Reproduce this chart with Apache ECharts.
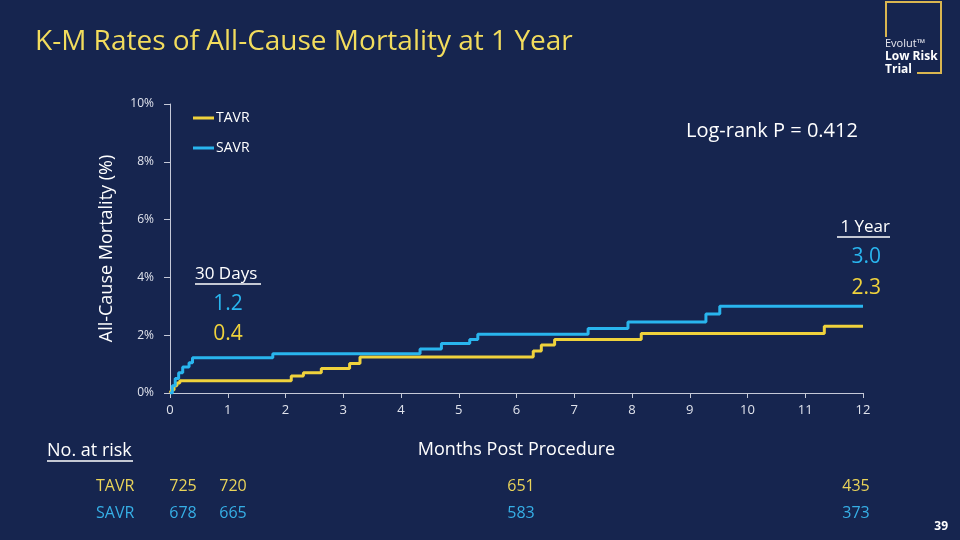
<!DOCTYPE html>
<html>
<head>
<meta charset="utf-8">
<script src="https://cdn.jsdelivr.net/npm/echarts@6/dist/echarts.min.js"></script>
<style>
  html, body { margin: 0; padding: 0; background: #16254f; }
  #chart { width: 960px; height: 540px; }
</style>
</head>
<body>
<div id="chart"></div>
<script>
// K-M 曲线数据（月份 / 累计死亡率 %）
const tavrMonths = [0, 0.03, 0.07, 0.12, 0.17, 2.1, 2.31, 2.62, 3.11, 3.29, 6.29, 6.43, 6.66, 8.16, 11.33, 12];
const tavrRates  = [0, 0.1, 0.25, 0.35, 0.42, 0.59, 0.7, 0.85, 1.02, 1.25, 1.45, 1.66, 1.85, 2.06, 2.31, 2.31];
const savrMonths = [0, 0.04, 0.09, 0.15, 0.22, 0.33, 0.39, 1.78, 4.33, 4.7, 5.19, 5.33, 7.24, 7.93, 9.28, 9.52, 12];
const savrRates  = [0, 0.25, 0.5, 0.7, 0.9, 1.05, 1.22, 1.36, 1.52, 1.71, 1.85, 2.03, 2.23, 2.46, 2.73, 3.0, 3.0];

// 风险人数表
const riskGroups = ['TAVR', 'SAVR'];
const riskCols = [183, 233, 521, 856];
const tavrAtRisk = [725, 720, 651, 435];
const savrAtRisk = [678, 665, 583, 373];

const yellow = '#efd23c';
const blue = '#29b5ee';
const titleYellow = '#f2dc5d';
const tableYellow = '#ead45a';
const tableBlue = '#36afe6';
const font = '"Open Sans", Lato, sans-serif';

const toPairs = (xs, ys) => xs.map((x, i) => [x, ys[i]]);

const chart = echarts.init(document.getElementById('chart'), null, {renderer: 'canvas'});

const txt = (x, y, text, size, color, align, weight) => ({
    type: 'text',
    style: {
        x: x, y: y, text: text,
        fill: color || '#ffffff',
        font: (weight || 'normal') + ' ' + (size || 16) + 'px ' + font,
        textAlign: align || 'left',
        textVerticalAlign: 'middle'
    }
});

const uline = (x1, x2, y) => ({
    type: 'line',
    shape: {x1: x1, y1: y, x2: x2, y2: y},
    style: {stroke: '#ffffff', lineWidth: 1.5}
});

const graphics = [
    txt(35, 42, 'K-M Rates of All-Cause Mortality at 1 Year', 28, titleYellow),
    txt(686, 131, 'Log-rank P = 0.412', 20),
    txt(890, 227, '1 Year', 17, '#ffffff', 'right'),
    uline(837, 890, 237),
    txt(881, 257, '3.0', 21, blue, 'right'),
    txt(881, 288, '2.3', 21, yellow, 'right'),
    txt(195, 274, '30 Days', 17),
    uline(195, 261, 284),
    txt(228, 304, '1.2', 21, blue, 'center'),
    txt(228, 334, '0.4', 21, yellow, 'center'),
    txt(47, 451, 'No. at risk', 18),
    uline(47, 133, 461),
    txt(948, 527, '39', 12, '#ffffff', 'right', 'bold'),
    // logo 方框
    {
        type: 'polyline',
        shape: {points: [[886, 37], [886, 2], [941, 2], [941, 73], [917, 73]]},
        style: {stroke: '#d9b650', lineWidth: 2, fill: null}
    },
    txt(885, 44, 'Evolut\u2122', 11, '#e8e8f0'),
    txt(885, 57, 'Low Risk', 12, '#ffffff', 'left', 'bold'),
    txt(885, 70, 'Trial', 12, '#ffffff', 'left', 'bold')
];

riskGroups.forEach((g, r) => {
    const y = 486 + r * 27;
    const vals = r === 0 ? tavrAtRisk : savrAtRisk;
    const c = r === 0 ? tableYellow : tableBlue;
    graphics.push(txt(96, y, g, 16, c));
    vals.forEach((v, i) => graphics.push(txt(riskCols[i], y, String(v), 16, c, 'center')));
});

const axisColor = '#c5c9d8';

const option = {
    backgroundColor: '#16254f',
    animation: false,
    textStyle: {fontFamily: font},
    grid: {left: 170, top: 104, width: 693, height: 289},
    legend: {
        orient: 'vertical',
        left: 188,
        top: 106,
        itemGap: 16,
        itemWidth: 21,
        itemHeight: 3,
        icon: 'rect',
        textStyle: {color: '#ffffff', fontSize: 14, fontFamily: font, padding: [0, 0, 0, -3]},
        data: ['TAVR', 'SAVR']
    },
    xAxis: {
        type: 'value',
        min: 0, max: 12, interval: 1,
        name: 'Months Post Procedure',
        nameLocation: 'middle',
        nameGap: 48,
        nameTextStyle: {color: '#ffffff', fontSize: 18, fontFamily: font},
        axisLine: {lineStyle: {color: axisColor, width: 1}},
        axisTick: {show: true, length: 5, lineStyle: {color: axisColor}},
        axisLabel: {color: '#e0e3ec', fontSize: 13, margin: 11},
        splitLine: {show: false}
    },
    yAxis: {
        type: 'value',
        min: 0, max: 10, interval: 2,
        name: 'All-Cause Mortality (%)',
        nameLocation: 'middle',
        nameRotate: 90,
        nameGap: 54,
        nameTextStyle: {color: '#ffffff', fontSize: 18, fontFamily: font},
        axisLine: {show: true, lineStyle: {color: axisColor, width: 1}},
        axisTick: {show: true, length: 6, lineStyle: {color: axisColor}},
        axisLabel: {color: '#e0e3ec', fontSize: 12, margin: 16, formatter: '{value}%'},
        splitLine: {show: false}
    },
    series: [
        {
            name: 'TAVR', type: 'line', step: 'end', showSymbol: false,
            color: yellow, lineStyle: {width: 3, color: yellow},
            data: toPairs(tavrMonths, tavrRates), z: 2
        },
        {
            name: 'SAVR', type: 'line', step: 'end', showSymbol: false,
            color: blue, lineStyle: {width: 3, color: blue},
            data: toPairs(savrMonths, savrRates), z: 3
        }
    ],
    graphic: graphics
};

chart.setOption(option);
</script>
</body>
</html>
